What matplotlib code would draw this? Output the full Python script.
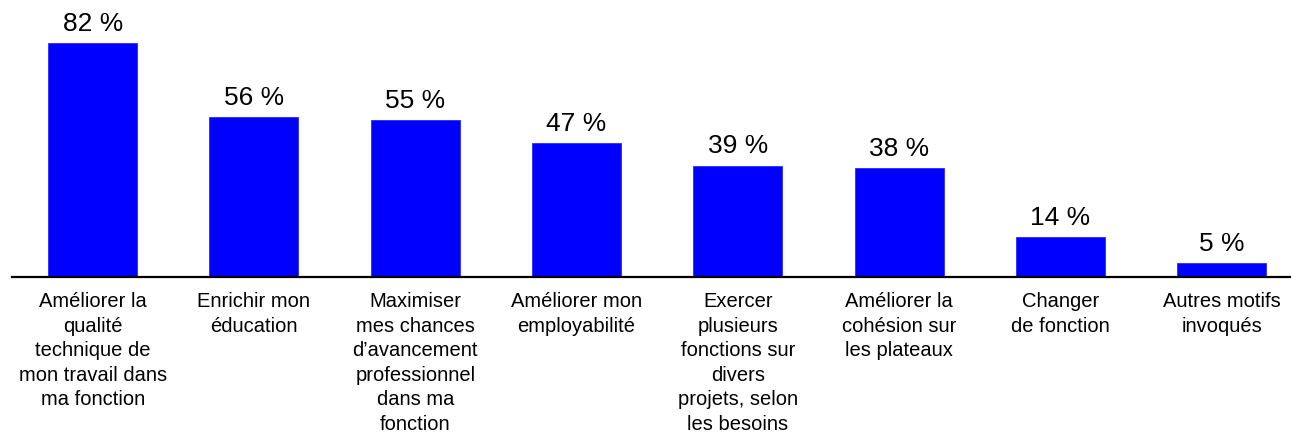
import matplotlib.pyplot as plt

plt.rcParams['font.family'] = ['Liberation Sans', 'DejaVu Sans']

categories = [
    "Améliorer la\nqualité\ntechnique de\nmon travail dans\nma fonction",
    "Enrichir mon\néducation",
    "Maximiser\nmes chances\nd’avancement\nprofessionnel\ndans ma\nfonction",
    "Améliorer mon\nemployabilité",
    "Exercer\nplusieurs\nfonctions sur\ndivers\nprojets, selon\nles besoins",
    "Améliorer la\ncohésion sur\nles plateaux",
    "Changer\nde fonction",
    "Autres motifs\ninvoqués",
]
values = [82, 56, 55, 47, 39, 38, 14, 5]

fig = plt.figure(figsize=(12.91, 4.34), dpi=100)
ax = fig.add_axes([12 / 1291, 157 / 434, 1290.5 / 1291, 257 / 434])

x = range(len(values))
bars = ax.bar(x, values, width=0.552, color='#0000FF', edgecolor='#2a2aff', linewidth=0.6)
for b, v in zip(bars, values):
    ax.text(b.get_x() + b.get_width() / 2, v + 2.5, f"{v} %",
            ha='center', va='bottom', fontsize=19, clip_on=False)

ax.set_xlim(-0.5, len(values) - 0.5)
ax.set_ylim(0, 90)
ax.set_xticks(list(x))
ax.set_xticklabels(categories, fontsize=14.5, linespacing=1.37, va='top')
ax.tick_params(axis='x', length=0, pad=11)
ax.set_yticks([])
for s in ['left', 'right', 'top']:
    ax.spines[s].set_visible(False)
ax.spines['bottom'].set_linewidth(1.6)

fig.savefig('out.png', dpi=100)
